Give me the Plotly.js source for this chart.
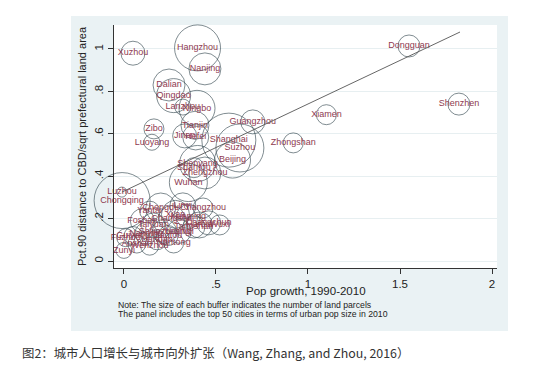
<!DOCTYPE html>
<html>
<head>
<meta charset="utf-8">
<script src="https://cdn.plot.ly/plotly-3.0.1.min.js"></script>
<style>
html,body{margin:0;padding:0;background:#fff;}
#chart{width:550px;height:371px;}
</style>
</head>
<body>
<div id="chart"></div>
<script>
// ---- data ----
const cities = ['Dongguan','Shenzhen','Xiamen','Zhongshan','Guangzhou','Xuzhou','Hangzhou','Nanjing','Dalian','Qingdao',
  'Lanzhou','Ningbo','Tianjin','Zibo','Luoyang','Jinan','Hefei','Shanghai','Suzhou','Beijing',
  'Shenyang','Shantou','Zhengzhou','Wuhan','Luzhou','Chongqing','Changzhou','Yantai','Harbin','Fuzhou',
  'Wenzhou','Zunyi','Nantong','Chengdu',"Xi'an",'Kunming','Changsha','Changchun','Taiyuan','Shijiazhuang',
  'Nanning','Urumqi','Tangshan','Wuxi','Foshan','Guiyang','Handan','Baotou','Anshan','Linyi'];
const popGrowth = [1.549,1.82,1.10,0.92,0.70,0.049,0.40,0.44,0.245,0.27,
  0.32,0.397,0.386,0.163,0.152,0.33,0.39,0.57,0.63,0.59,
  0.40,0.38,0.44,0.35,-0.011,-0.01,0.43,0.14,0.41,0.01,
  0.14,0.0,0.27,0.20,0.28,0.35,0.26,0.46,0.16,0.22,
  0.12,0.30,0.38,0.52,0.10,0.05,0.18,0.24,0.07,0.32];
const distance = [1.014,0.74,0.69,0.557,0.656,0.98,1.005,0.906,0.83,0.78,
  0.726,0.72,0.64,0.623,0.56,0.59,0.585,0.57,0.533,0.476,
  0.46,0.44,0.415,0.37,0.325,0.285,0.25,0.235,0.17,0.11,
  0.07,0.05,0.085,0.25,0.22,0.21,0.20,0.18,0.17,0.14,
  0.13,0.14,0.16,0.17,0.19,0.12,0.10,0.12,0.08,0.26];
const parcels = [2420,2420,2000,2000,2880,2880,10580,5120,5120,5780,
  1280,6480,3920,2000,1280,2880,3380,14580,11520,6480,
  6480,2000,5120,7220,500,15680,2000,2000,3380,1620,
  1620,1280,2000,4500,3920,2880,3380,2880,2880,2880,
  2420,2880,2420,2000,2880,1620,2000,2000,1620,3380];
const fitX = [-0.011, 1.826];
const fitY = [0.325, 1.080];
const xTickVals = [0, 0.5, 1, 1.5, 2];
const xTickText = ['0', '.5', '1', '1.5', '2'];
const yTickVals = [0, 0.2, 0.4, 0.6, 0.8, 1];
const yTickText = ['0', '.2', '.4', '.6', '.8', '1'];

// ---- drawing ----
const markerDiam = parcels.map(p => 2 * Math.sqrt(p / 20));
const FONT = '"Liberation Sans", Arial, sans-serif';

const traces = [
  {
    type: 'scatter', mode: 'markers+text',
    x: popGrowth, y: distance, text: cities,
    textposition: 'middle center',
    textfont: {family: FONT, size: 9, color: '#8e3a50'},
    marker: {symbol: 'circle-open', size: markerDiam, color: '#34474f', line: {width: 0.9, color: '#34474f'}},
    hoverinfo: 'text', showlegend: false, cliponaxis: false
  },
  {
    type: 'scatter', mode: 'lines',
    x: fitX, y: fitY,
    line: {color: '#555555', width: 0.9},
    showlegend: false, hoverinfo: 'skip'
  }
];

const layout = {
  width: 550, height: 371,
  margin: {l: 114, r: 53, t: 25, b: 103},
  paper_bgcolor: '#ffffff',
  plot_bgcolor: 'rgba(0,0,0,0)',
  showlegend: false,
  font: {family: FONT, color: '#222'},
  xaxis: {
    range: [-0.054, 2.027], tickvals: xTickVals, ticktext: xTickText,
    showgrid: false, zeroline: false, showline: true, linecolor: '#333', linewidth: 1,
    ticks: 'outside', ticklen: 5, tickcolor: '#333', tickwidth: 1,
    tickfont: {family: FONT, size: 11.5, color: '#222'}
  },
  yaxis: {
    range: [-0.033, 1.113], tickvals: yTickVals, ticktext: yTickText, tickangle: -90,
    showgrid: true, gridcolor: '#e7eff1', gridwidth: 1, zeroline: false,
    showline: true, linecolor: '#333', linewidth: 1,
    ticks: 'outside', ticklen: 5, tickcolor: '#333', tickwidth: 1,
    tickfont: {family: FONT, size: 11.5, color: '#222'},
    title: {text: 'Pct.90 distance to CBD/sqrt prefectural land area', font: {family: FONT, size: 11, color: '#222'}, standoff: 4}
  },
  shapes: [
    {type: 'rect', xref: 'paper', yref: 'paper', x0: -0.1123, x1: 1.0287, y0: -0.259, y1: 1.037,
     fillcolor: '#eaf2f4', line: {width: 0}, layer: 'below'},
    {type: 'rect', xref: 'paper', yref: 'paper', x0: 0, x1: 1.0, y0: 0, y1: 1.0,
     fillcolor: '#ffffff', line: {width: 0}, layer: 'below'}
  ],
  annotations: [
    {xref: 'paper', yref: 'paper', x: 0.502, y: -0.095, xanchor: 'center', yanchor: 'middle', showarrow: false,
     text: 'Pop growth, 1990-2010', font: {family: FONT, size: 11.5, color: '#222'}},
    {xref: 'paper', yref: 'paper', x: 0.005, y: -0.153, xanchor: 'left', yanchor: 'middle', showarrow: false,
     align: 'left', text: 'Note: The size of each buffer indicates the number of land parcels',
     font: {family: FONT, size: 8.7, color: '#222'}},
    {xref: 'paper', yref: 'paper', x: 0.005, y: -0.190, xanchor: 'left', yanchor: 'middle', showarrow: false,
     align: 'left', text: 'The panel includes the top 50 cities in terms of urban pop size in 2010',
     font: {family: FONT, size: 8.7, color: '#222'}},
    {xref: 'paper', yref: 'paper', x: -0.246, y: -0.350, xanchor: 'left', yanchor: 'middle', showarrow: false,
     align: 'left', text: '图2：城市人口增长与城市向外扩张（Wang, Zhang, and Zhou, 2016）',
     font: {family: '"Noto Sans CJK SC", "Noto Sans", sans-serif', size: 12.4, color: '#333333'}}
  ]
};

Plotly.newPlot('chart', traces, layout, {staticPlot: true, displayModeBar: false});
</script>
</body>
</html>
